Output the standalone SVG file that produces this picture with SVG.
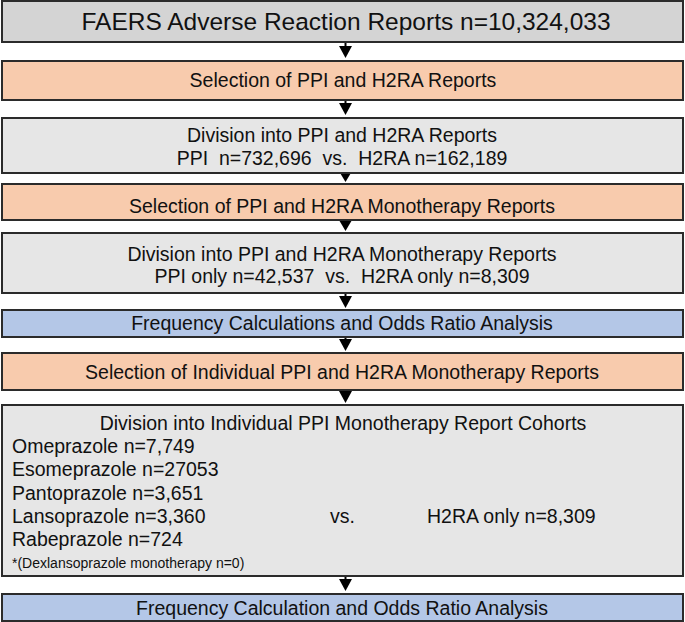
<svg xmlns="http://www.w3.org/2000/svg" width="685" height="622" viewBox="0 0 685 622">
<style>
.box{stroke:#2b2b2b;stroke-width:2}
.g1{fill:#d4d4d4}
.g2{fill:#e6e6e6}
.or{fill:#f8cbad}
.bl{fill:#b4c7e7}
text{font-family:"Liberation Sans",Arial,sans-serif;fill:#111;font-size:19.5px}
.c{text-anchor:middle}
.t{font-size:24.5px}
.fn{font-size:14px}
.ln{stroke:#000;stroke-width:2}
</style>
<g id="connectors">
<line class="ln" x1="345.5" y1="43" x2="345.5" y2="47" />
<path d="M339,46 L352,46 L345.5,58 Z"/>
<line class="ln" x1="345.5" y1="101" x2="345.5" y2="104"/>
<path d="M339,103 L352,103 L345.5,115 Z"/>
<line class="ln" x1="345.5" y1="174" x2="345.5" y2="172"/>
<path d="M339.5,172 L351.5,172 L345.5,182 Z"/>
<line class="ln" x1="345.5" y1="221" x2="345.5" y2="221"/>
<path d="M339,220 L352,220 L345.5,231 Z"/>
<line class="ln" x1="345.5" y1="294" x2="345.5" y2="297"/>
<path d="M339,296 L352,296 L345.5,308 Z"/>
<line class="ln" x1="345.5" y1="338" x2="345.5" y2="340"/>
<path d="M339,339 L352,339 L345.5,351 Z"/>
<line class="ln" x1="345.5" y1="391" x2="345.5" y2="392"/>
<path d="M339,391 L352,391 L345.5,403 Z"/>
<line class="ln" x1="345.5" y1="577" x2="345.5" y2="580"/>
<path d="M339,579 L352,579 L345.5,591 Z"/>
</g>
<g id="n1"><rect class="box g1" x="2" y="1" width="681" height="41"/>
<text class="c t" x="346" y="30">FAERS Adverse Reaction Reports n=10,324,033</text></g>
<g id="n2"><rect class="box or" x="2" y="61" width="681" height="39"/>
<text class="c" x="343" y="87">Selection of PPI and H2RA Reports</text></g>
<g id="n3"><rect class="box g2" x="2" y="118" width="681" height="55"/>
<text class="c" x="342" y="142">Division into PPI and H2RA Reports</text>
<text class="c" x="342" y="165" xml:space="preserve">PPI  n=732,696  vs.  H2RA n=162,189</text></g>
<g id="n4"><rect class="box or" x="2" y="184" width="681" height="36"/>
<text class="c" x="342" y="213">Selection of PPI and H2RA Monotherapy Reports</text></g>
<g id="n5"><rect class="box g2" x="2" y="233" width="681" height="60"/>
<text class="c" x="342" y="261">Division into PPI and H2RA Monotherapy Reports</text>
<text class="c" x="342" y="283" xml:space="preserve">PPI only n=42,537  vs.  H2RA only n=8,309</text></g>
<g id="n6"><rect class="box bl" x="2" y="310" width="681" height="27"/>
<text class="c" x="342" y="330">Frequency Calculations and Odds Ratio Analysis</text></g>
<g id="n7"><rect class="box or" x="2" y="353" width="681" height="37"/>
<text class="c" x="342" y="379">Selection of Individual PPI and H2RA Monotherapy Reports</text></g>
<g id="n8"><rect class="box g2" x="2" y="405" width="681" height="171"/>
<text class="c" x="343" y="430">Division into Individual PPI Monotherapy Report Cohorts</text>
<text x="12" y="453">Omeprazole n=7,749</text>
<text x="12" y="476">Esomeprazole n=27053</text>
<text x="12" y="500">Pantoprazole n=3,651</text>
<text x="12" y="523">Lansoprazole n=3,360</text>
<text x="12" y="546">Rabeprazole n=724</text>
<text class="fn" x="12" y="568">*(Dexlansoprazole monotherapy n=0)</text>
<text x="330" y="523">vs.</text>
<text x="427" y="523">H2RA only n=8,309</text></g>
<g id="n9"><rect class="box bl" x="2" y="594" width="681" height="27"/>
<text class="c" x="342" y="615">Frequency Calculation and Odds Ratio Analysis</text></g>
</svg>
